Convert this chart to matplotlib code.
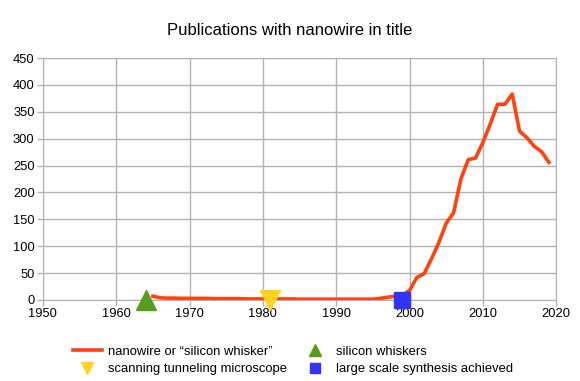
import matplotlib.pyplot as plt
from matplotlib.lines import Line2D

plt.rcParams['font.family'] = ['Liberation Sans', 'DejaVu Sans']

years = list(range(1965, 2020))
counts = [7, 4, 3.5, 3.5, 3, 3, 3, 3, 2.5, 2.5,
          2.5, 2.5, 2.5, 2, 2, 2, 2, 2, 2, 2,
          1.5, 1.5, 1.5, 1.5, 1.5, 1.5, 1.5, 1.5, 1.5, 1.5,
          1.5, 3, 5, 7, 8.5, 18, 42, 49, 77, 107,
          143, 162, 225, 261, 264, 293, 327, 364, 364, 383,
          314, 302, 286, 276, 256]

whisker_year, whisker_val = [1964], [0]
stm_year, stm_val = [1981], [0]
synth_year, synth_val = [1999], [0]

fig = plt.figure(figsize=(5.8, 3.81), dpi=100)
ax = fig.add_axes([0.074, 0.2126, 0.885, 0.635])

ax.plot(years, counts, color='#ff420e', lw=2.6, solid_joinstyle='round', zorder=3)
ax.plot(whisker_year, whisker_val, marker='^', color='#579d1c', ms=15, ls='none', zorder=4, clip_on=False)
ax.plot(stm_year, stm_val, marker='v', color='#ffd320', ms=15, ls='none', zorder=4, clip_on=False)
ax.plot(synth_year, synth_val, marker='s', color='#3333ff', ms=11, ls='none', zorder=4, clip_on=False)

ax.set_xlim(1950, 2020)
ax.set_ylim(0, 450)
ax.set_xticks(range(1950, 2021, 10))
ax.set_yticks(range(0, 451, 50))
ax.grid(color='#b3b3b3', lw=1)
ax.set_axisbelow(True)
for s in ax.spines.values():
    s.set_color('#b3b3b3')
ax.tick_params(colors='#b3b3b3', labelcolor='black', labelsize=9.3, length=4, width=1, pad=2)

fig.suptitle('Publications with nanowire in title', x=0.5, y=0.94, fontsize=12)

handles = [
    Line2D([], [], color='#ff420e', lw=2.6),
    Line2D([], [], marker='v', color='#ffd320', ls='none', ms=8),
    Line2D([], [], marker='^', color='#579d1c', ls='none', ms=8),
    Line2D([], [], marker='s', color='#3333ff', ls='none', ms=7),
]
labels = ['nanowire or \u201csilicon whisker\u201d', 'scanning tunneling microscope',
          'silicon whiskers', 'large scale synthesis achieved']
fig.legend(handles, labels, ncol=2, loc='center', bbox_to_anchor=(0.505, 0.054),
           frameon=False, fontsize=9.4, handlelength=2.2, handletextpad=0.5,
           columnspacing=1.0, labelspacing=0.4)

fig.savefig('out.png', dpi=100)
